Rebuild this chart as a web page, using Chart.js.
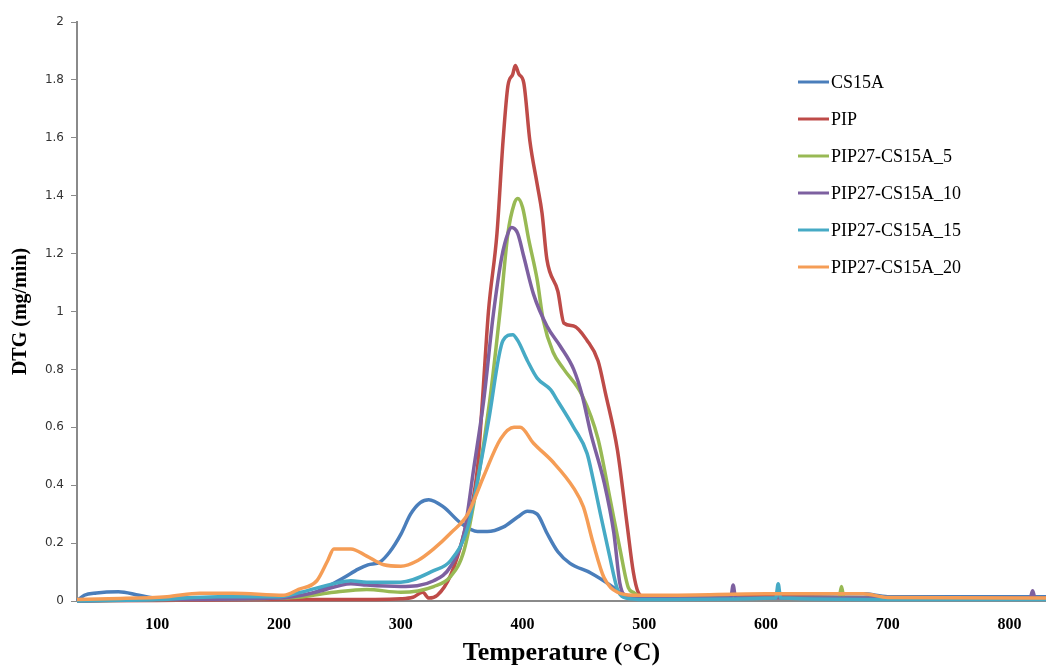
<!DOCTYPE html>
<html>
<head>
<meta charset="utf-8">
<script src="https://cdn.jsdelivr.net/npm/chart.js@4.4.1/dist/chart.umd.min.js"></script>
<style>
  html, body { margin: 0; padding: 0; background: #fff; }
  #wrap { width: 1046px; height: 666px; }
</style>
</head>
<body>
<div id="wrap"><canvas id="myChart" width="1046" height="666"></canvas></div>
<script>
// series names
const seriesNames = ["CS15A", "PIP", "PIP27-CS15A_5", "PIP27-CS15A_10", "PIP27-CS15A_15", "PIP27-CS15A_20"];

// temperatures (°C) and DTG values (mg/min)
const cs15aT = [34, 40, 50, 68, 85, 100, 150, 200, 218, 235, 253, 265, 273, 283, 291, 300, 308, 316, 323, 335, 349, 363, 371, 384, 396, 404, 412, 420, 429, 439, 456, 472, 480, 491, 520, 600, 680, 700, 830];
const cs15aV = [0, 0.02, 0.028, 0.032, 0.02, 0.01, 0.01, 0.012, 0.015, 0.04, 0.08, 0.11, 0.125, 0.135, 0.17, 0.23, 0.30, 0.34, 0.35, 0.325, 0.27, 0.24, 0.24, 0.255, 0.29, 0.31, 0.30, 0.235, 0.17, 0.13, 0.097, 0.055, 0.03, 0.012, 0.01, 0.02, 0.025, 0.015, 0.015];

const pipT = [34, 100, 200, 250, 300, 310, 318, 323, 330, 341, 352, 363, 367, 372, 379, 384, 388, 392, 394, 397, 401, 406, 412, 416, 420, 429, 434, 442, 453, 462, 468, 478, 486, 491, 495, 500, 600, 700, 830];
const pipV = [0, 0.002, 0.005, 0.005, 0.008, 0.013, 0.03, 0.01, 0.02, 0.09, 0.235, 0.46, 0.69, 1.0, 1.27, 1.59, 1.78, 1.82, 1.85, 1.82, 1.79, 1.59, 1.44, 1.34, 1.18, 1.07, 0.96, 0.95, 0.90, 0.83, 0.72, 0.52, 0.26, 0.10, 0.03, 0.015, 0.015, 0.01, 0.01];

const pip5T = [34, 100, 200, 220, 245, 272, 300, 327, 341, 352, 363, 373, 382, 388, 393, 396, 400, 405, 412, 417, 425, 434, 449, 462, 472, 480, 487, 491, 500, 660, 662, 664, 700, 830];
const pip5V = [0, 0.005, 0.01, 0.015, 0.03, 0.04, 0.03, 0.05, 0.085, 0.175, 0.41, 0.69, 1.02, 1.27, 1.37, 1.39, 1.36, 1.25, 1.11, 0.97, 0.86, 0.80, 0.71, 0.56, 0.35, 0.18, 0.045, 0.03, 0.01, 0.01, 0.05, 0.01, 0.01, 0.01];

const pip10T = [34, 100, 200, 230, 259, 272, 300, 327, 341, 352, 360, 368, 376, 383, 388, 391, 396, 401, 409, 420, 431, 442, 449, 456, 467, 475, 480, 486, 500, 571, 573, 575, 700, 817, 819, 821, 830];
const pip10V = [0, 0.005, 0.01, 0.03, 0.06, 0.055, 0.05, 0.07, 0.12, 0.235, 0.46, 0.69, 0.99, 1.19, 1.27, 1.29, 1.27, 1.19, 1.06, 0.95, 0.88, 0.80, 0.71, 0.58, 0.41, 0.235, 0.06, 0.015, 0.01, 0.01, 0.055, 0.01, 0.01, 0.01, 0.035, 0.01, 0.01];

const pip15T = [34, 100, 150, 200, 218, 245, 259, 272, 300, 327, 341, 355, 365, 372, 384, 392, 396, 404, 412, 423, 429, 442, 453, 458, 464, 471, 478, 485, 500, 608, 610, 612, 700, 830];
const pip15V = [0, 0.005, 0.015, 0.015, 0.03, 0.06, 0.07, 0.065, 0.065, 0.105, 0.14, 0.255, 0.46, 0.62, 0.90, 0.92, 0.90, 0.83, 0.77, 0.73, 0.69, 0.60, 0.51, 0.42, 0.30, 0.165, 0.04, 0.01, 0.005, 0.01, 0.06, 0.01, 0.005, 0.005];

const pip20T = [34, 60, 108, 135, 162, 204, 216, 231, 240, 245, 259, 272, 286, 300, 314, 327, 341, 355, 368, 382, 393, 398, 409, 425, 442, 450, 458, 467, 478, 491, 520, 600, 680, 700, 830];
const pip20V = [0.005, 0.008, 0.015, 0.027, 0.027, 0.02, 0.04, 0.07, 0.14, 0.18, 0.18, 0.155, 0.125, 0.12, 0.14, 0.18, 0.235, 0.30, 0.43, 0.56, 0.60, 0.60, 0.545, 0.48, 0.39, 0.325, 0.20, 0.08, 0.03, 0.02, 0.02, 0.025, 0.025, 0.012, 0.01];

const allT = [cs15aT, pipT, pip5T, pip10T, pip15T, pip20T];
const allV = [cs15aV, pipV, pip5V, pip10V, pip15V, pip20V];
const colors = ["#4A7EBB", "#BE4B48", "#98B954", "#7D60A0", "#46AAC5", "#F59D56"];

// tick labels
const xTicks = [100, 200, 300, 400, 500, 600, 700, 800];
const yTicks = [0, 0.2, 0.4, 0.6, 0.8, 1, 1.2, 1.4, 1.6, 1.8, 2];

function toPoints(ts, vs) {
  return ts.map((t, i) => ({ x: t, y: vs[i] }));
}

const datasets = seriesNames.map((name, i) => ({
  label: name,
  data: toPoints(allT[i], allV[i]),
  borderColor: colors[i],
  backgroundColor: colors[i],
  borderWidth: 3.5,
  pointRadius: 0,
  cubicInterpolationMode: "monotone",
  fill: false,
  order: seriesNames.length - i,
  clip: { left: 2, top: 2, right: 0, bottom: 6 },
}));

// legend drawn by hand, Excel style
const sideLegend = {
  id: "sideLegend",
  afterDraw(chart) {
    const ctx = chart.ctx;
    ctx.save();
    ctx.font = "18px 'Liberation Serif'";
    ctx.textBaseline = "middle";
    ctx.fillStyle = "#000";
    chart.data.datasets.forEach((ds, i) => {
      const y = 82 + i * 37;
      ctx.strokeStyle = ds.borderColor;
      ctx.lineWidth = 3;
      ctx.beginPath();
      ctx.moveTo(798, y);
      ctx.lineTo(829, y);
      ctx.stroke();
      ctx.fillText(ds.label, 831, y + 1);
    });
    ctx.restore();
  },
};

new Chart(document.getElementById("myChart"), {
  type: "line",
  data: { datasets },
  plugins: [sideLegend],
  options: {
    responsive: false,
    animation: false,
    layout: { padding: { top: 22, right: 0, left: 0, bottom: 0 } },
    plugins: {
      legend: { display: false },
      tooltip: { enabled: false },
    },
    scales: {
      x: {
        type: "linear",
        min: 34,
        max: 830,
        afterFit: (s) => { s.height = 65; },
        afterBuildTicks: (s) => { s.ticks = xTicks.map((v) => ({ value: v })); },
        ticks: {
          padding: 14,
          color: "#000",
          font: { family: "Liberation Serif", size: 16, weight: "bold" },
          maxRotation: 0,
        },
        grid: { drawOnChartArea: false, drawTicks: false },
        border: { color: "#8a8a8a", width: 2 },
        title: {
          display: true,
          text: "Temperature (°C)",
          color: "#000",
          font: { family: "Liberation Serif", size: 26, weight: "bold", lineHeight: 1 },
          padding: { top: 0, bottom: 0 },
        },
      },
      y: {
        min: 0,
        max: 2,
        afterFit: (s) => { s.width = 77; },
        afterBuildTicks: (s) => { s.ticks = yTicks.map((v) => ({ value: v })); },
        ticks: {
          padding: 7,
          color: "#333",
          font: { family: "DejaVu Sans", size: 12 },
          callback: (v) => String(Math.round(v * 10) / 10),
        },
        grid: { drawOnChartArea: false, tickLength: 6, color: "#8a8a8a", lineWidth: 1 },
        border: { color: "#8a8a8a", width: 2 },
        title: {
          display: true,
          text: "DTG (mg/min)",
          color: "#000",
          font: { family: "Liberation Serif", size: 20, weight: "bold" },
          padding: { top: 9, bottom: 0 },
        },
      },
    },
  },
});
</script>
</body>
</html>
